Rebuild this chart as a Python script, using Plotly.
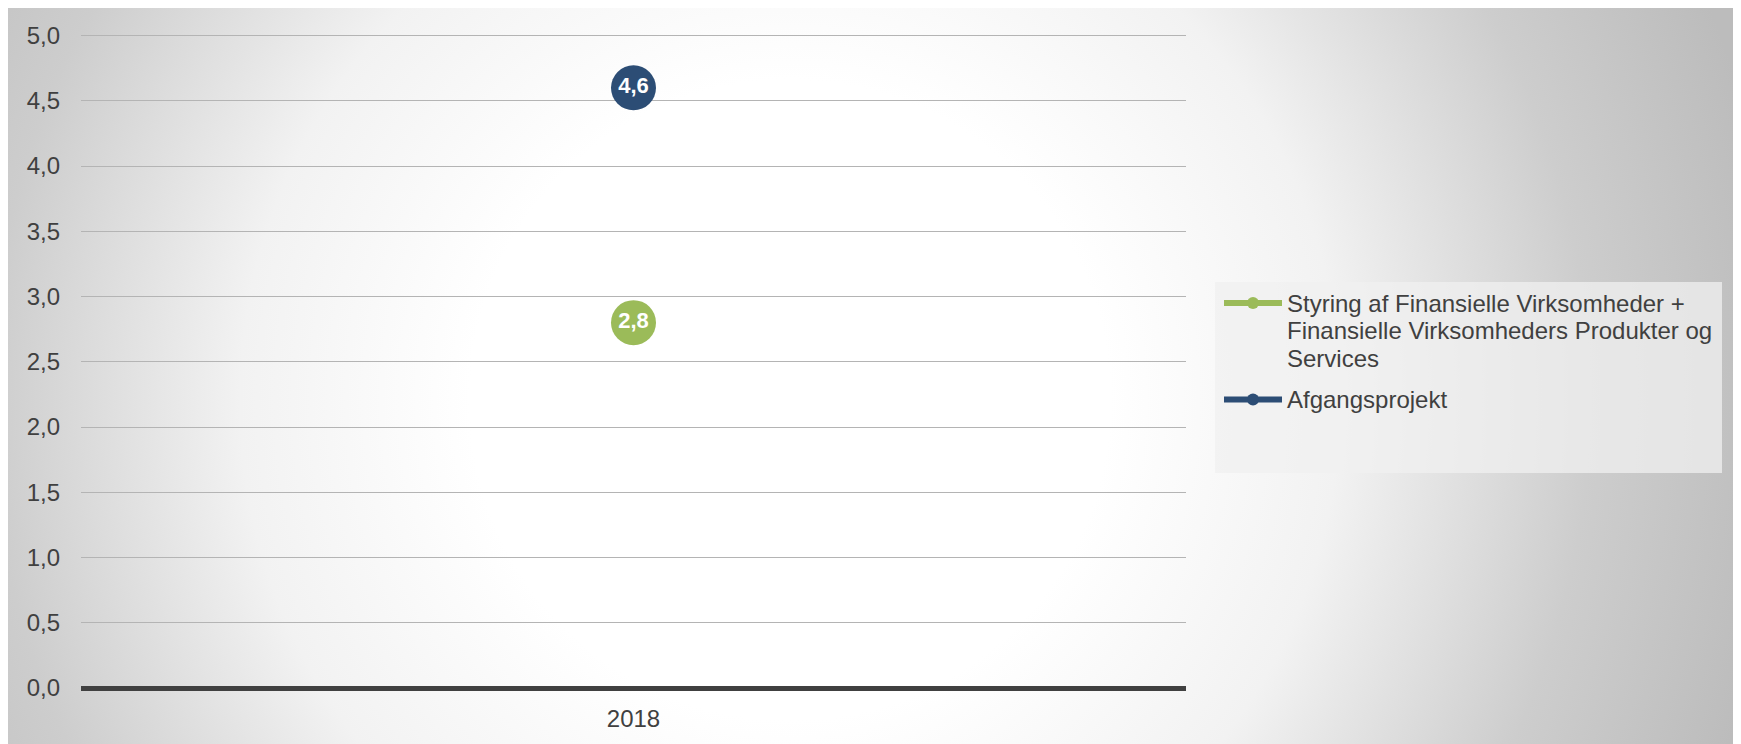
import base64
import plotly.graph_objects as go

# ---- data ----
categories = ["2018"]
series_names = [
    "Styring af Finansielle Virksomheder + Finansielle Virksomheders Produkter og Services",
    "Afgangsprojekt",
]
legend_lines = [
    ["Styring af Finansielle Virksomheder +", "Finansielle Virksomheders Produkter og", "Services"],
    ["Afgangsprojekt"],
]
values_styring = [2.8]
values_afgang = [4.6]
y_ticks = [0.0, 0.5, 1.0, 1.5, 2.0, 2.5, 3.0, 3.5, 4.0, 4.5, 5.0]

GREEN = "#9BBB59"
NAVY = "#2C4D75"
TXT = "#404040"
FONT = "Liberation Sans, Arial, sans-serif"

OFF = 8  # page body margin
W, H = 1741 - OFF, 744 - OFF
L, R, T, B = 81 - OFF, 555, 25, 56
PW, PH = W - L - R, H - T - B


def px2x(px):
    # px in window coordinates
    return (px - OFF - L) / PW


def py2y(py):
    return (H - B - (py - OFF)) / PH


fig = go.Figure()
fig.add_trace(go.Scatter(
    x=categories, y=values_styring, name=series_names[0], mode="markers+text",
    marker=dict(size=45, color=GREEN, line=dict(width=0)),
    texttemplate="%{y:.1f}", textposition="middle center",
    textfont=dict(family=FONT, size=22, color="white", weight="bold"),
    cliponaxis=False, showlegend=False,
))
fig.add_trace(go.Scatter(
    x=categories, y=values_afgang, name=series_names[1], mode="markers+text",
    marker=dict(size=45, color=NAVY, line=dict(width=0)),
    texttemplate="%{y:.1f}", textposition="middle center",
    textfont=dict(family=FONT, size=22, color="white", weight="bold"),
    cliponaxis=False, showlegend=False,
))

# ---- radial gradient background (svg) covering the whole figure ----
svg = f'''<svg xmlns="http://www.w3.org/2000/svg" width="{W}" height="{H}" viewBox="0 0 {W} {H}" preserveAspectRatio="none">
<defs><radialGradient id="g" gradientUnits="userSpaceOnUse" cx="{790-OFF}" cy="{400-OFF}" r="1000">
<stop offset="0" stop-color="#ffffff"/>
<stop offset="0.32" stop-color="#ffffff"/>
<stop offset="0.55" stop-color="#f2f2f2"/>
<stop offset="0.8" stop-color="#cdcdcd"/>
<stop offset="1" stop-color="#bcbcbc"/>
</radialGradient></defs>
<rect x="0" y="0" width="{W}" height="{H}" fill="url(#g)"/>
</svg>'''
src = "data:image/svg+xml;base64," + base64.b64encode(svg.encode()).decode()

images = [dict(source=src, xref="paper", yref="paper", x=-L / PW, y=(H - B) / PH,
               sizex=W / PW, sizey=H / PH, xanchor="left", yanchor="top",
               sizing="stretch", layer="below")]

shapes = []
annotations = []
# legend box
shapes.append(dict(type="rect", xref="paper", yref="paper", x0=px2x(1215), x1=px2x(1722),
                   y0=py2y(282), y1=py2y(473), fillcolor="rgba(240,240,240,0.75)",
                   line=dict(width=0), layer="below"))
legend_colors = [GREEN, NAVY]
item_y = [303, 399.5]
line_gap = 27.5
for i, lines in enumerate(legend_lines):
    yy = item_y[i]
    shapes.append(dict(type="line", xref="paper", yref="paper", x0=px2x(1224), x1=px2x(1282),
                       y0=py2y(yy), y1=py2y(yy), line=dict(color=legend_colors[i], width=6)))
    shapes.append(dict(type="circle", xref="paper", yref="paper", x0=px2x(1247), x1=px2x(1259),
                       y0=py2y(yy + 6), y1=py2y(yy - 6), fillcolor=legend_colors[i],
                       line=dict(width=0)))
    for j, t in enumerate(lines):
        annotations.append(dict(text=t, xref="paper", yref="paper", x=px2x(1285),
                                y=py2y(yy + j * line_gap), xanchor="left", yanchor="middle",
                                showarrow=False, font=dict(family=FONT, size=24, color=TXT)))

fig.update_layout(
    width=W, height=H,
    margin=dict(l=L, r=R, t=T, b=B, autoexpand=False),
    paper_bgcolor="#d0d0d0", plot_bgcolor="rgba(0,0,0,0)",
    separators=",.",
    font=dict(family=FONT, size=24, color=TXT),
    showlegend=False,
    images=images, shapes=shapes, annotations=annotations,
    xaxis=dict(type="category", range=[-0.5, 0.5], showgrid=False, zeroline=False,
               showline=False, ticks="", ticklabelstandoff=14,
               tickfont=dict(family=FONT, size=24, color=TXT)),
    yaxis=dict(range=[0, 5.02], tickvals=y_ticks, tickformat=".1f", showgrid=True,
               gridcolor="#b4b4b4", gridwidth=1, zeroline=True, zerolinecolor="#404040",
               zerolinewidth=4.5, showline=False, ticks="", ticklabelstandoff=20,
               tickfont=dict(family=FONT, size=24, color=TXT)),
)

fig.write_html("out.html")
